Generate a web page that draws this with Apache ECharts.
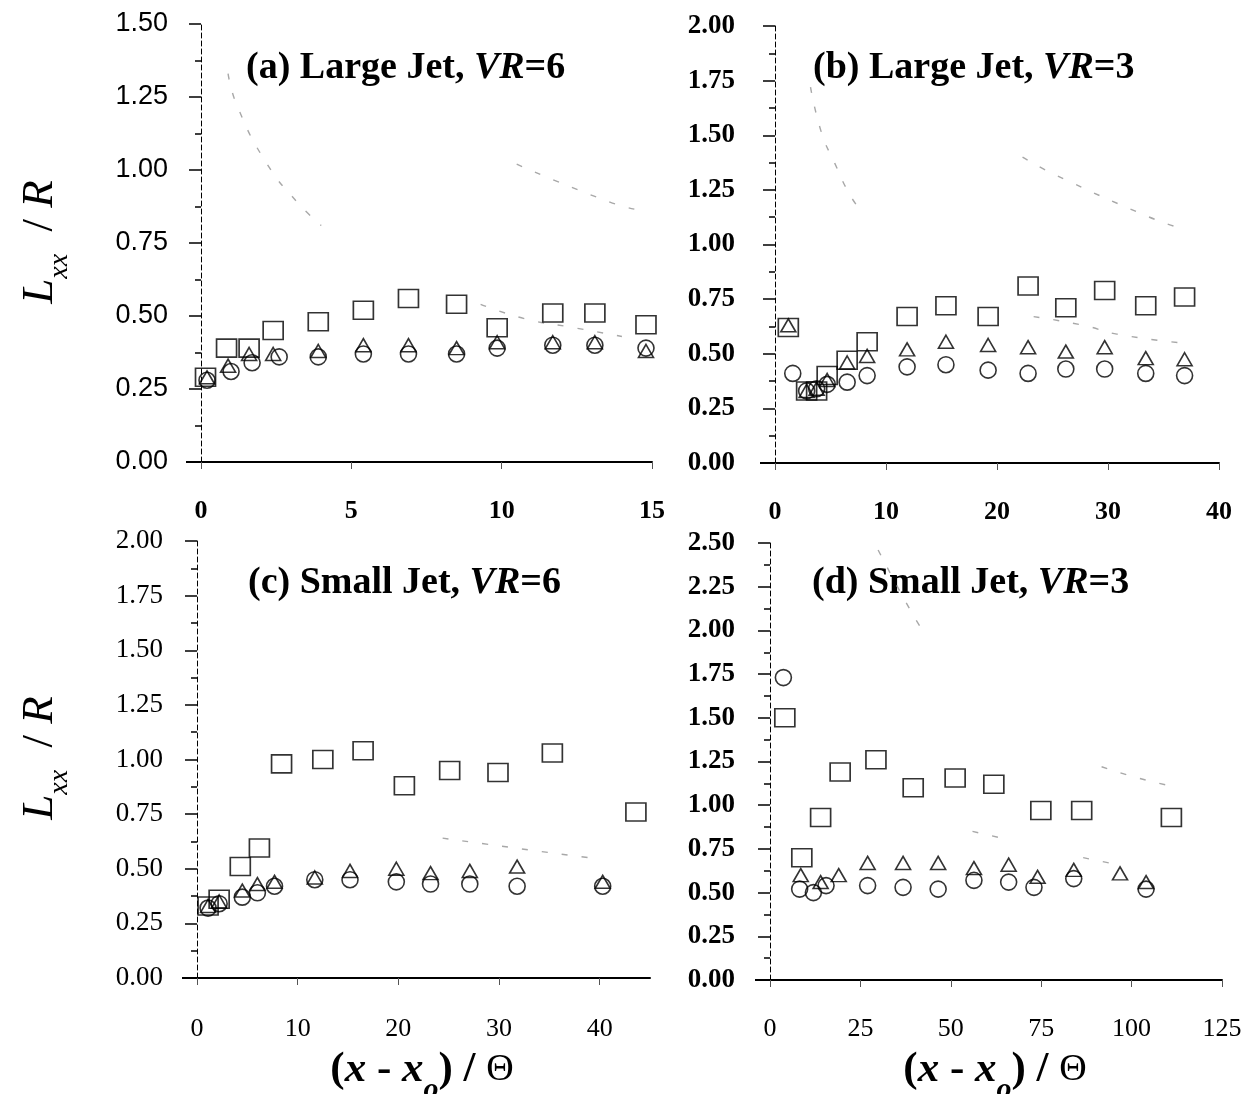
<!DOCTYPE html>
<html>
<head>
<meta charset="utf-8">
<title>Lxx/R streamwise integral length scale</title>
<script src="https://cdn.jsdelivr.net/npm/echarts@6/dist/echarts.min.js"></script>
<style>
  html, body { margin: 0; padding: 0; background: #fff; }
  #chart { width: 1246px; height: 1094px; }
</style>
</head>
<body>
<div id="chart"></div>
<script>
// ---- data: [x/Theta, Lxx/R] per symbol, per panel ----
const aSquares   = [[0.15,0.29],[0.85,0.39],[1.6,0.39],[2.4,0.45],[3.9,0.48],[5.4,0.52],[6.9,0.56],[8.5,0.54],[9.85,0.46],[11.7,0.51],[13.1,0.51],[14.8,0.47]];
const aTriangles = [[0.2,0.29],[0.9,0.33],[1.6,0.37],[2.4,0.37],[3.9,0.38],[5.4,0.40],[6.9,0.40],[8.5,0.39],[9.85,0.41],[11.7,0.41],[13.1,0.41],[14.8,0.38]];
const aCircles   = [[0.2,0.28],[1.0,0.31],[1.7,0.34],[2.6,0.36],[3.9,0.36],[5.4,0.37],[6.9,0.37],[8.5,0.37],[9.85,0.39],[11.7,0.40],[13.1,0.40],[14.8,0.39]];

const bSquares   = [[1.2,0.62],[2.85,0.33],[3.75,0.33],[4.7,0.40],[6.5,0.47],[8.3,0.555],[11.9,0.67],[15.4,0.72],[19.2,0.67],[22.8,0.81],[26.2,0.71],[29.7,0.79],[33.4,0.72],[36.9,0.76]];
const bTriangles = [[1.2,0.63],[2.85,0.33],[3.75,0.34],[4.7,0.38],[6.5,0.46],[8.3,0.49],[11.9,0.52],[15.4,0.555],[19.2,0.54],[22.8,0.53],[26.2,0.51],[29.7,0.53],[33.4,0.48],[36.9,0.475]];
const bCircles   = [[1.6,0.41],[2.85,0.33],[3.75,0.34],[4.7,0.36],[6.5,0.37],[8.3,0.40],[11.9,0.44],[15.4,0.45],[19.2,0.425],[22.8,0.41],[26.2,0.43],[29.7,0.43],[33.4,0.41],[36.9,0.40]];

const cSquares   = [[1.1,0.33],[2.2,0.36],[4.3,0.51],[6.2,0.595],[8.4,0.98],[12.5,1.00],[16.5,1.04],[20.6,0.88],[25.1,0.95],[29.9,0.94],[35.3,1.03],[43.6,0.76]];
const cTriangles = [[1.1,0.33],[2.2,0.35],[4.5,0.40],[6.0,0.43],[7.7,0.44],[11.7,0.46],[15.2,0.49],[19.8,0.50],[23.2,0.48],[27.1,0.49],[31.8,0.51],[40.3,0.44]];
const cCircles   = [[1.1,0.32],[2.2,0.34],[4.5,0.37],[6.0,0.39],[7.7,0.42],[11.7,0.45],[15.2,0.45],[19.8,0.44],[23.2,0.43],[27.1,0.43],[31.8,0.42],[40.3,0.42]];

const dSquares   = [[4.1,1.50],[8.8,0.70],[14.0,0.93],[19.4,1.19],[29.3,1.26],[39.6,1.10],[51.2,1.155],[61.9,1.12],[74.9,0.97],[86.2,0.97],[111,0.93]];
const dTriangles = [[8.5,0.60],[14,0.56],[19,0.60],[27,0.67],[36.8,0.67],[46.5,0.67],[56.4,0.64],[66,0.66],[74,0.59],[84,0.63],[96.8,0.61],[104,0.56]];
const dCircles   = [[3.7,1.73],[8.2,0.52],[12,0.50],[15.5,0.54],[27,0.54],[36.8,0.53],[46.5,0.52],[56.4,0.57],[66,0.56],[73,0.53],[84,0.58],[104,0.52]];

// faint grey dashed reference curves
const aCurves = [
  [[0.9,1.33],[1.2,1.22],[2.2,1.02],[3.2,0.89],[4.0,0.81]],
  [[10.5,1.02],[13.6,0.89],[14.7,0.86]],
  [[9.3,0.54],[10.8,0.49],[12.4,0.46],[14.0,0.43]]
];
const bCurves = [
  [[3.2,1.72],[4.2,1.51],[5.4,1.37],[6.6,1.24],[7.5,1.17]],
  [[22.3,1.40],[25.2,1.32],[33.5,1.13],[36.2,1.08]],
  [[23.3,0.67],[27.8,0.63],[30.8,0.59],[36.5,0.55]]
];
const cCurves = [
  [[24.4,0.64],[34,0.58],[39,0.55]]
];
const dCurves = [
  [[29.9,2.46],[38.7,2.12],[43.4,1.96]],
  [[91.7,1.22],[101,1.16],[109.7,1.115]],
  [[56,0.85],[64.5,0.81]],
  [[86.6,0.70],[96,0.66]]
];

// axis ranges and tick steps
const xMax  = [15, 40, 45, 125];
const xStep = [5, 10, 10, 25];
const yMax  = [1.5, 2.0, 2.0, 2.5];
const yStep = 0.25;

const panelTitles = [['(a) Large Jet, ', 'VR', '=6'], ['(b) Large Jet, ', 'VR', '=3'],
                     ['(c) Small Jet, ', 'VR', '=6'], ['(d) Small Jet, ', 'VR', '=3']];

// ---- layout ----
const grids = [
  { left: 201, top: 24,  width: 451, height: 438 },
  { left: 775, top: 26,  width: 444, height: 437 },
  { left: 197, top: 541, width: 453, height: 437 },
  { left: 770, top: 543, width: 452, height: 437 }
];
const yLabelFont = [
  { fontFamily: 'Liberation Sans', fontWeight: 'normal', fontSize: 27, margin: 33 },
  { fontFamily: 'Liberation Serif', fontWeight: 'bold', fontSize: 27, margin: 40 },
  { fontFamily: 'Liberation Serif', fontWeight: 'normal', fontSize: 27, margin: 34 },
  { fontFamily: 'Liberation Serif', fontWeight: 'bold', fontSize: 27, margin: 35 }
];
const xLabelFont = [
  { fontWeight: 'bold', margin: 36 },
  { fontWeight: 'bold', margin: 36 },
  { fontWeight: 'normal', margin: 38 },
  { fontWeight: 'normal', margin: 36 }
];

const xAxes = grids.map((g, i) => ({
  gridIndex: i, type: 'value', min: 0, max: xMax[i], interval: xStep[i],
  axisLine: { onZero: false, lineStyle: { color: '#000', width: 2 } },
  axisTick: { show: true, length: 7, lineStyle: { color: '#555', width: 1 } },
  splitLine: { show: false },
  axisLabel: { showMaxLabel: i !== 2, color: '#000', fontSize: 26,
               fontFamily: 'Liberation Serif', fontWeight: xLabelFont[i].fontWeight, margin: xLabelFont[i].margin }
}));
const yAxes = grids.map((g, i) => ({
  gridIndex: i, type: 'value', min: 0, max: yMax[i], interval: yStep,
  axisLine: { show: true, onZero: false, lineStyle: { color: '#000', width: 1, type: [5, 3] } },
  axisTick: { show: true, length: 12, lineStyle: { color: '#000', width: 1.5 } },
  minorTick: { show: true, splitNumber: 2, length: 6, lineStyle: { color: '#000', width: 1.5 } },
  splitLine: { show: false },
  axisLabel: { color: '#000', fontSize: yLabelFont[i].fontSize, fontFamily: yLabelFont[i].fontFamily,
               fontWeight: yLabelFont[i].fontWeight, margin: yLabelFont[i].margin,
               formatter: v => v.toFixed(2) }
}));

const markerStyle = { color: 'rgba(0,0,0,0)', borderColor: '#000', borderWidth: 1.6 };
function scatter(data, i, symbol, size) {
  return { type: 'scatter', xAxisIndex: i, yAxisIndex: i, data, symbol, symbolSize: size,
           itemStyle: markerStyle, silent: true, z: 3 };
}
function curve(data, i) {
  return { type: 'line', xAxisIndex: i, yAxisIndex: i, data, showSymbol: false, symbol: 'none',
           smooth: true, silent: true, z: 1,
           lineStyle: { color: '#a8a8a8', width: 1.4, type: [6, 14] } };
}

const symbolSets = [
  [aSquares, aTriangles, aCircles, aCurves],
  [bSquares, bTriangles, bCircles, bCurves],
  [cSquares, cTriangles, cCircles, cCurves],
  [dSquares, dTriangles, dCircles, dCurves]
];
const series = [];
symbolSets.forEach((s, i) => {
  s[3].forEach(c => series.push(curve(c, i)));
  series.push(scatter(s[0], i, 'rect', [20, 18]));
  series.push(scatter(s[1], i, 'triangle', [15, 13]));
  series.push(scatter(s[2], i, 'circle', 16));
});

// ---- text: panel titles and axis names ----
const titlePos = [[246, 68], [813, 68], [248, 583], [812, 583]];
const serif = 'Liberation Serif';
const graphics = panelTitles.map((t, i) => ({
  type: 'text', x: titlePos[i][0], y: titlePos[i][1], silent: true,
  style: {
    text: '{b|' + t[0] + '}{i|' + t[1] + '}{b|' + t[2] + '}',
    verticalAlign: 'middle', align: 'left',
    rich: {
      b: { fontFamily: serif, fontWeight: 'bold', fontSize: 38, fill: '#000' },
      i: { fontFamily: serif, fontStyle: 'italic', fontWeight: 'bold', fontSize: 38, fill: '#000' }
    }
  }
}));

const yNameRich = {
  it:  { fontFamily: serif, fontStyle: 'italic', fontSize: 45, lineHeight: 50, fill: '#000' },
  sub: { fontFamily: serif, fontStyle: 'italic', fontSize: 28, lineHeight: 68, verticalAlign: 'bottom', fill: '#000' },
  rm:  { fontFamily: serif, fontSize: 45, lineHeight: 50, fill: '#000' }
};
[[40, 242], [40, 758]].forEach(p => graphics.push({
  type: 'text', x: p[0], y: p[1], rotation: Math.PI / 2, silent: true,
  style: { text: '{it|L}{sub|xx}{rm|  / }{it|R}', align: 'center', verticalAlign: 'middle', rich: yNameRich }
}));

const xNameRich = {
  rm:  { fontFamily: serif, fontWeight: 'bold', fontSize: 43, lineHeight: 48, fill: '#000' },
  it:  { fontFamily: serif, fontWeight: 'bold', fontStyle: 'italic', fontSize: 43, lineHeight: 48, fill: '#000' },
  sub: { fontFamily: serif, fontWeight: 'bold', fontStyle: 'italic', fontSize: 30, lineHeight: 70, verticalAlign: 'bottom', fill: '#000' },
  th:  { fontFamily: serif, fontSize: 38, lineHeight: 48, fill: '#000' }
};
[[422, 1070], [995, 1070]].forEach(p => graphics.push({
  type: 'text', x: p[0], y: p[1], silent: true,
  style: { text: '{rm|(}{it|x}{rm| - }{it|x}{sub|o}{rm|) / }{th|Θ}', align: 'center', verticalAlign: 'middle', rich: xNameRich }
}));

const chart = echarts.init(document.getElementById('chart'), null, { renderer: 'canvas' });
chart.setOption({
  backgroundColor: '#fff',
  animation: false,
  grid: grids.map(g => Object.assign({ containLabel: false }, g)),
  xAxis: xAxes,
  yAxis: yAxes,
  series,
  graphic: graphics
});

// the baseline of each panel runs a little past its left axis
const stubs = grids.map((g, i) => {
  const p = chart.convertToPixel({ xAxisIndex: i, yAxisIndex: i }, [0, 0]);
  return { type: 'line', silent: true, z: 2,
           shape: { x1: p[0] - 15, y1: p[1], x2: p[0], y2: p[1] },
           style: { stroke: '#000', lineWidth: 2 } };
});
chart.setOption({ graphic: graphics.concat(stubs) });
</script>
</body>
</html>
